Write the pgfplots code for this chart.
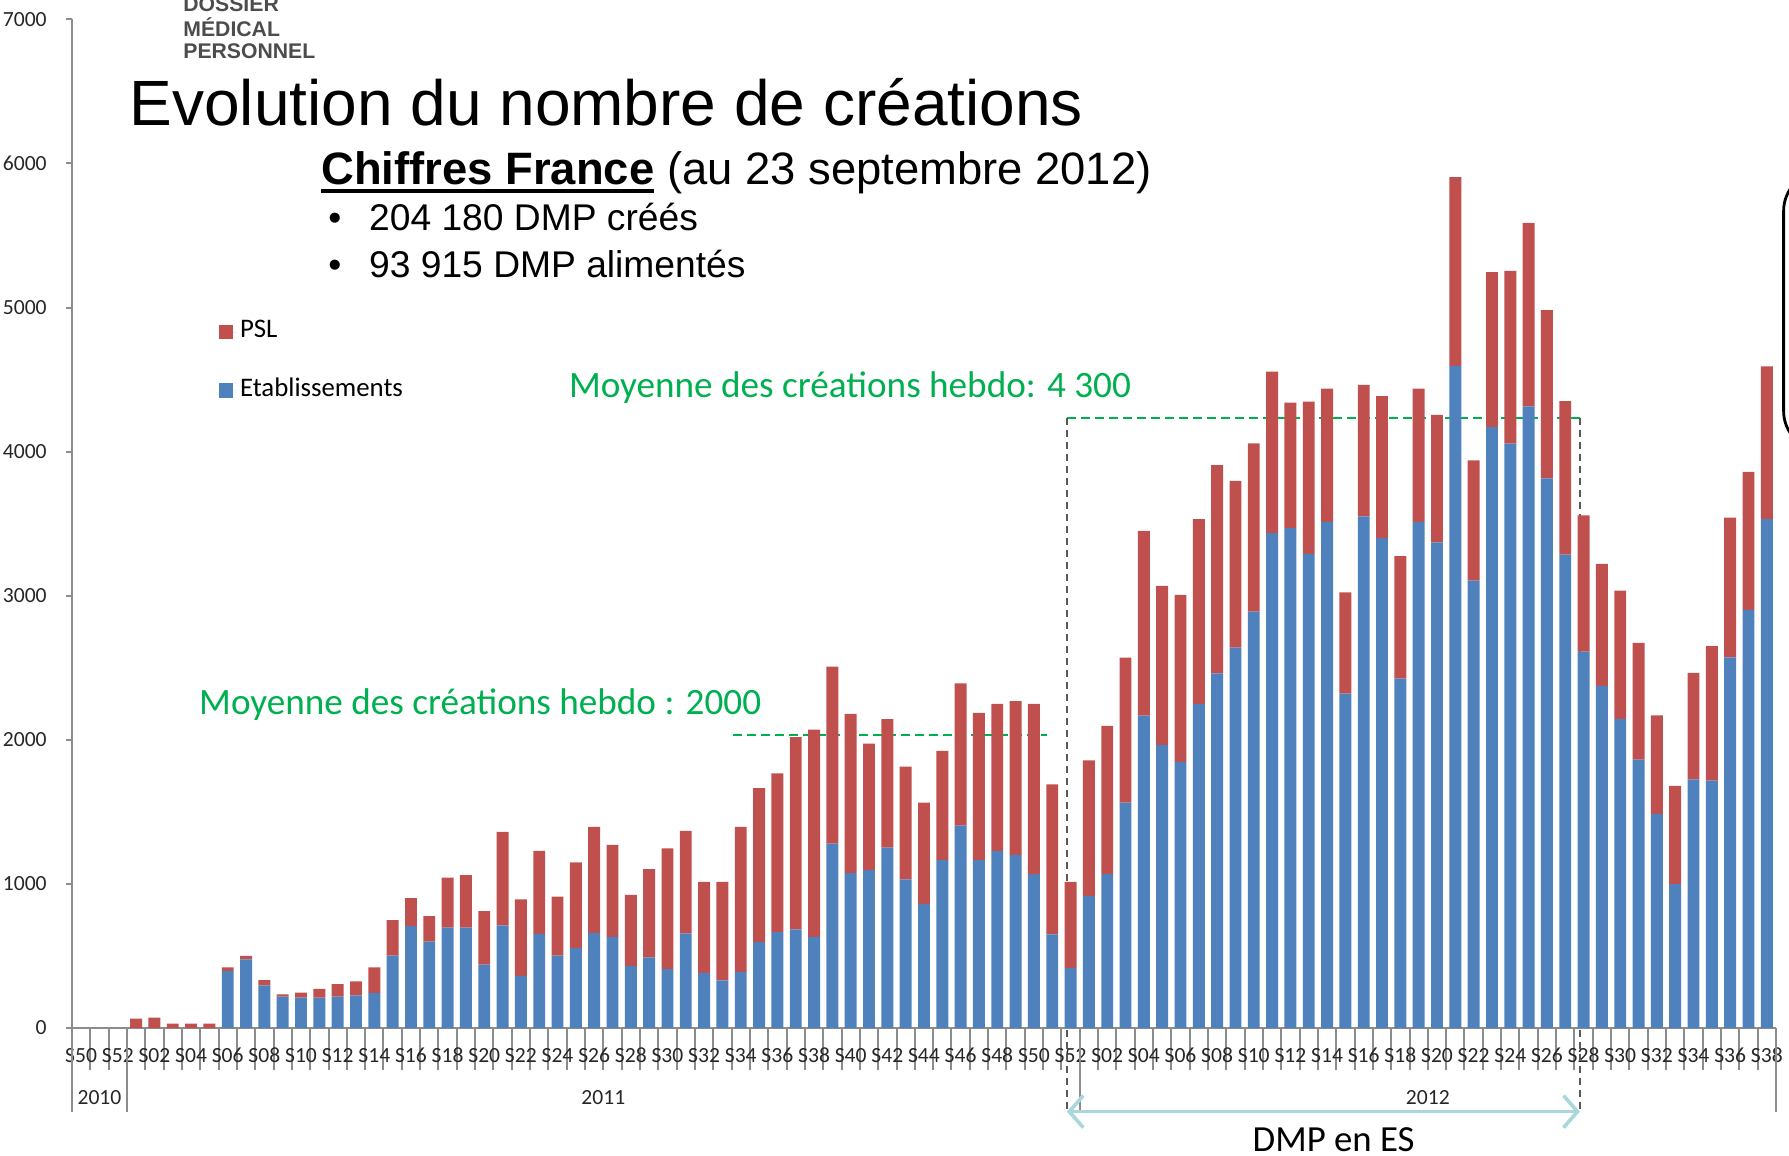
\documentclass[border=0pt]{standalone}
\usepackage{pgfplots}
\pgfplotsset{compat=1.18}
\usepackage{pgfplotstable}
\usepackage{fontspec}
\setmainfont{Carlito}
\newfontfamily\arial{Liberation Sans}
\usetikzlibrary{arrows.meta}
\definecolor{cblue}{HTML}{4F81BD}
\definecolor{cred}{HTML}{C0504D}
\definecolor{cgreen}{HTML}{00B050}
\definecolor{cteal}{HTML}{A9D8DC}
\definecolor{caxis}{HTML}{8C8C8C}
\newcommand\thickul[1]{\setbox0\hbox{#1}\rlap{\rule[-2pt]{\wd0}{1pt}}\box0\relax}
\pgfplotstableread{
x etab psl
0 0 0
1 0 0
2 0 0
3 0 65
4 0 72
5 0 30
6 0 30
7 0 30
8 395 25
9 476 24
10 296 37
11 218 16
12 211 34
13 211 60
14 218 87
15 227 97
16 243 178
17 502 247
18 707 195
19 599 178
20 696 347
21 696 365
22 439 372
23 712 650
24 361 531
25 654 576
26 502 409
27 555 594
28 660 736
29 633 638
30 430 494
31 490 613
32 409 837
33 656 712
34 383 632
35 330 685
36 390 1006
37 596 1068
38 666 1102
39 684 1334
40 633 1438
41 1280 1228
42 1077 1103
43 1095 879
44 1252 891
45 1031 783
46 862 703
47 1165 758
48 1405 987
49 1165 1022
50 1227 1022
51 1202 1066
52 1068 1181
53 649 1041
54 416 599
55 915 943
56 1068 1028
57 1565 1005
58 2168 1282
59 1965 1104
60 1847 1159
61 2250 1281
62 2462 1444
63 2640 1157
64 2890 1168
65 3435 1120
66 3470 870
67 3290 1058
68 3513 925
69 2320 703
70 3550 913
71 3400 985
72 2425 850
73 3513 925
74 3370 885
75 4596 1309
76 3105 835
77 4170 1076
78 4056 1199
79 4315 1273
80 3814 1168
81 3285 1065
82 2612 946
83 2375 847
84 2145 891
85 1862 811
86 1486 684
87 999 681
88 1725 740
89 1717 933
90 2572 970
91 2902 958
92 3531 1061
}\data
\begin{document}
\begin{tikzpicture}
\path[use as bounding box] (-18pt,-32pt) rectangle (429.25pt,257pt);
% axis carrying only the category boundary ticks
\begin{axis}[
  at={(0pt,0pt)}, anchor=south west,
  scale only axis, width=426pt, height=252.15pt,
  xmin=-0.5, xmax=92.5, ymin=0, ymax=7000,
  axis x line*=bottom, axis y line=none,
  axis line style={caxis, line width=0.5pt},
  tick align=outside, major tick length=10.5pt,
  xtick={-0.5,0.5,...,92.5}, xticklabels={},
  xtick style={caxis, line width=0.5pt},
  ytick=\empty,
]
\end{axis}
\begin{axis}[
  at={(0pt,0pt)}, anchor=south west,
  scale only axis, width=426pt, height=252.15pt,
  ybar stacked, bar width=0.65,
  xmin=-0.5, xmax=92.5, ymin=0, ymax=7000,
  axis x line*=bottom, axis y line*=left,
  axis line style={caxis, line width=0.5pt},
  tick align=outside,
  major tick length=1.6pt,
  ytick={0,1000,...,7000},
  ytick style={caxis, line width=0.5pt},
  yticklabel style={font=\fontsize{5.4}{6}\selectfont, text=black!85, xshift=-1.2pt},
  xtick={0,2,...,92},
  xticklabels={S50,S52,S02,S04,S06,S08,S10,S12,S14,S16,S18,S20,S22,S24,S26,S28,S30,S32,S34,S36,S38,S40,S42,S44,S46,S48,S50,S52,S02,S04,S06,S08,S10,S12,S14,S16,S18,S20,S22,S24,S26,S28,S30,S32,S34,S36,S38},
  xtick style={draw=none},
  xticklabel style={font=\fontsize{5.4}{6}\selectfont, anchor=base, yshift=-7.1pt, text=black!85},
  /pgf/number format/assume math mode=true,
  /pgf/number format/1000 sep={},
  clip=false,
  legend style={draw=none, fill=none, inner sep=0pt, at={(axis description cs:0.0857,0.6606)}, anchor=west, font=\fontsize{6.7}{7.5}\selectfont, row sep=6.6pt, nodes={inner sep=1pt}},
  legend cell align=left,
  reverse legend,
]
\addplot[fill=cblue, draw=none, legend image code/.code={\fill[cblue] (0pt,-1.8pt) rectangle (3.6pt,1.8pt); \path (0pt,0pt) -- (4.3pt,0pt);}] table[x=x,y=etab]{\data};
\addplot[fill=cred, draw=none, legend image code/.code={\fill[cred] (0pt,-1.8pt) rectangle (3.6pt,1.8pt); \path (0pt,0pt) -- (4.3pt,0pt);}] table[x=x,y=psl]{\data};
\legend{Etablissements, PSL}
% DMP en ES box
\draw[black!65, dash pattern=on 1.8pt off 1.2pt, line width=0.45pt] (axis cs:53.8,4235) -- ([yshift=-20.9pt]axis cs:53.8,0);
\draw[black!65, dash pattern=on 1.8pt off 1.2pt, line width=0.45pt] (axis cs:81.8,4235) -- ([yshift=-20.9pt]axis cs:81.8,0);
\draw[cgreen, dash pattern=on 2.2pt off 1.3pt, line width=0.6pt] (axis cs:53.8,4235) -- (axis cs:81.8,4235);
\draw[cgreen, dash pattern=on 2.2pt off 1.3pt, line width=0.6pt] (axis cs:35.6,2032) -- (axis cs:52.7,2032);
\draw[cteal, line width=0.9pt, {Straight Barb[length=3.5pt,width=8pt]}-{Straight Barb[length=3.5pt,width=8pt]}] ([yshift=-20.9pt]axis cs:53.8,0) -- ([yshift=-20.9pt]axis cs:81.8,0);
% year separators
\draw[caxis, line width=0.5pt] (axis cs:-0.5,0) -- ([yshift=-21pt]axis cs:-0.5,0);
\draw[caxis, line width=0.5pt] (axis cs:2.5,0) -- ([yshift=-21pt]axis cs:2.5,0);
\draw[caxis, line width=0.5pt] (axis cs:54.5,0) -- ([yshift=-21pt]axis cs:54.5,0);
\draw[caxis, line width=0.5pt] (axis cs:92.5,0) -- ([yshift=-21pt]axis cs:92.5,0);
\node[anchor=base, inner sep=0pt, font=\fontsize{5.4}{6}\selectfont, text=black!85] at ([yshift=-19pt]axis cs:1,0) {2010};
\node[anchor=base, inner sep=0pt, font=\fontsize{5.4}{6}\selectfont, text=black!85] at ([yshift=-19pt]axis cs:28.5,0) {2011};
\node[anchor=base, inner sep=0pt, font=\fontsize{5.4}{6}\selectfont, text=black!85] at ([yshift=-19pt]axis cs:73.5,0) {2012};
\end{axis}
% titles and annotations
\node[anchor=base west, inner sep=0pt, font=\arial\fontsize{16}{18}\selectfont] at (14.2pt,225.5pt) {Evolution du nombre de créations};
\node[anchor=base west, inner sep=0pt, font=\arial\fontsize{11.35}{13}\selectfont] at (62.15pt,210.8pt) {\thickul{\bfseries Chiffres France} (au 23 septembre 2012)};
\node[anchor=base west, inner sep=0pt, font=\arial\fontsize{9.3}{10}\selectfont] at (63.9pt,199.4pt) {•};
\node[anchor=base west, inner sep=0pt, font=\arial\fontsize{9.3}{10}\selectfont] at (74.1pt,199.4pt) {204 180 DMP créés};
\node[anchor=base west, inner sep=0pt, font=\arial\fontsize{9.3}{10}\selectfont] at (63.9pt,187.7pt) {•};
\node[anchor=base west, inner sep=0pt, font=\arial\fontsize{9.3}{10}\selectfont] at (74.1pt,187.7pt) {93 915 DMP alimentés};
\node[anchor=base west, inner sep=0pt, text=cgreen, font=\fontsize{9.3}{10}\selectfont] at (124.05pt,157.7pt) {Moyenne des créations hebdo: 4 300};
\node[anchor=base west, inner sep=0pt, text=cgreen, font=\fontsize{9.3}{10}\selectfont] at (31.6pt,78.25pt) {Moyenne des créations hebdo : 2000};
\node[anchor=base, inner sep=0pt, font=\fontsize{9.2}{10}\selectfont] at (315.4pt,-30.9pt) {DMP en ES};
% logo
\node[anchor=base west, inner sep=0pt, text=black!70, font=\arial\bfseries\fontsize{5.3}{6}\selectfont] at (27.65pt,254pt) {DOSSIER};
\node[anchor=base west, inner sep=0pt, text=black!70, font=\arial\bfseries\fontsize{5.3}{6}\selectfont] at (27.65pt,247.9pt) {MÉDICAL};
\node[anchor=base west, inner sep=0pt, text=black!70, font=\arial\bfseries\fontsize{5.3}{6}\selectfont] at (27.65pt,242.25pt) {PERSONNEL};
% partial callout box at right edge
\draw[line width=0.7pt, rounded corners=10pt] (427.9pt,144.25pt) rectangle (470pt,214.25pt);
\end{tikzpicture}
\end{document}
